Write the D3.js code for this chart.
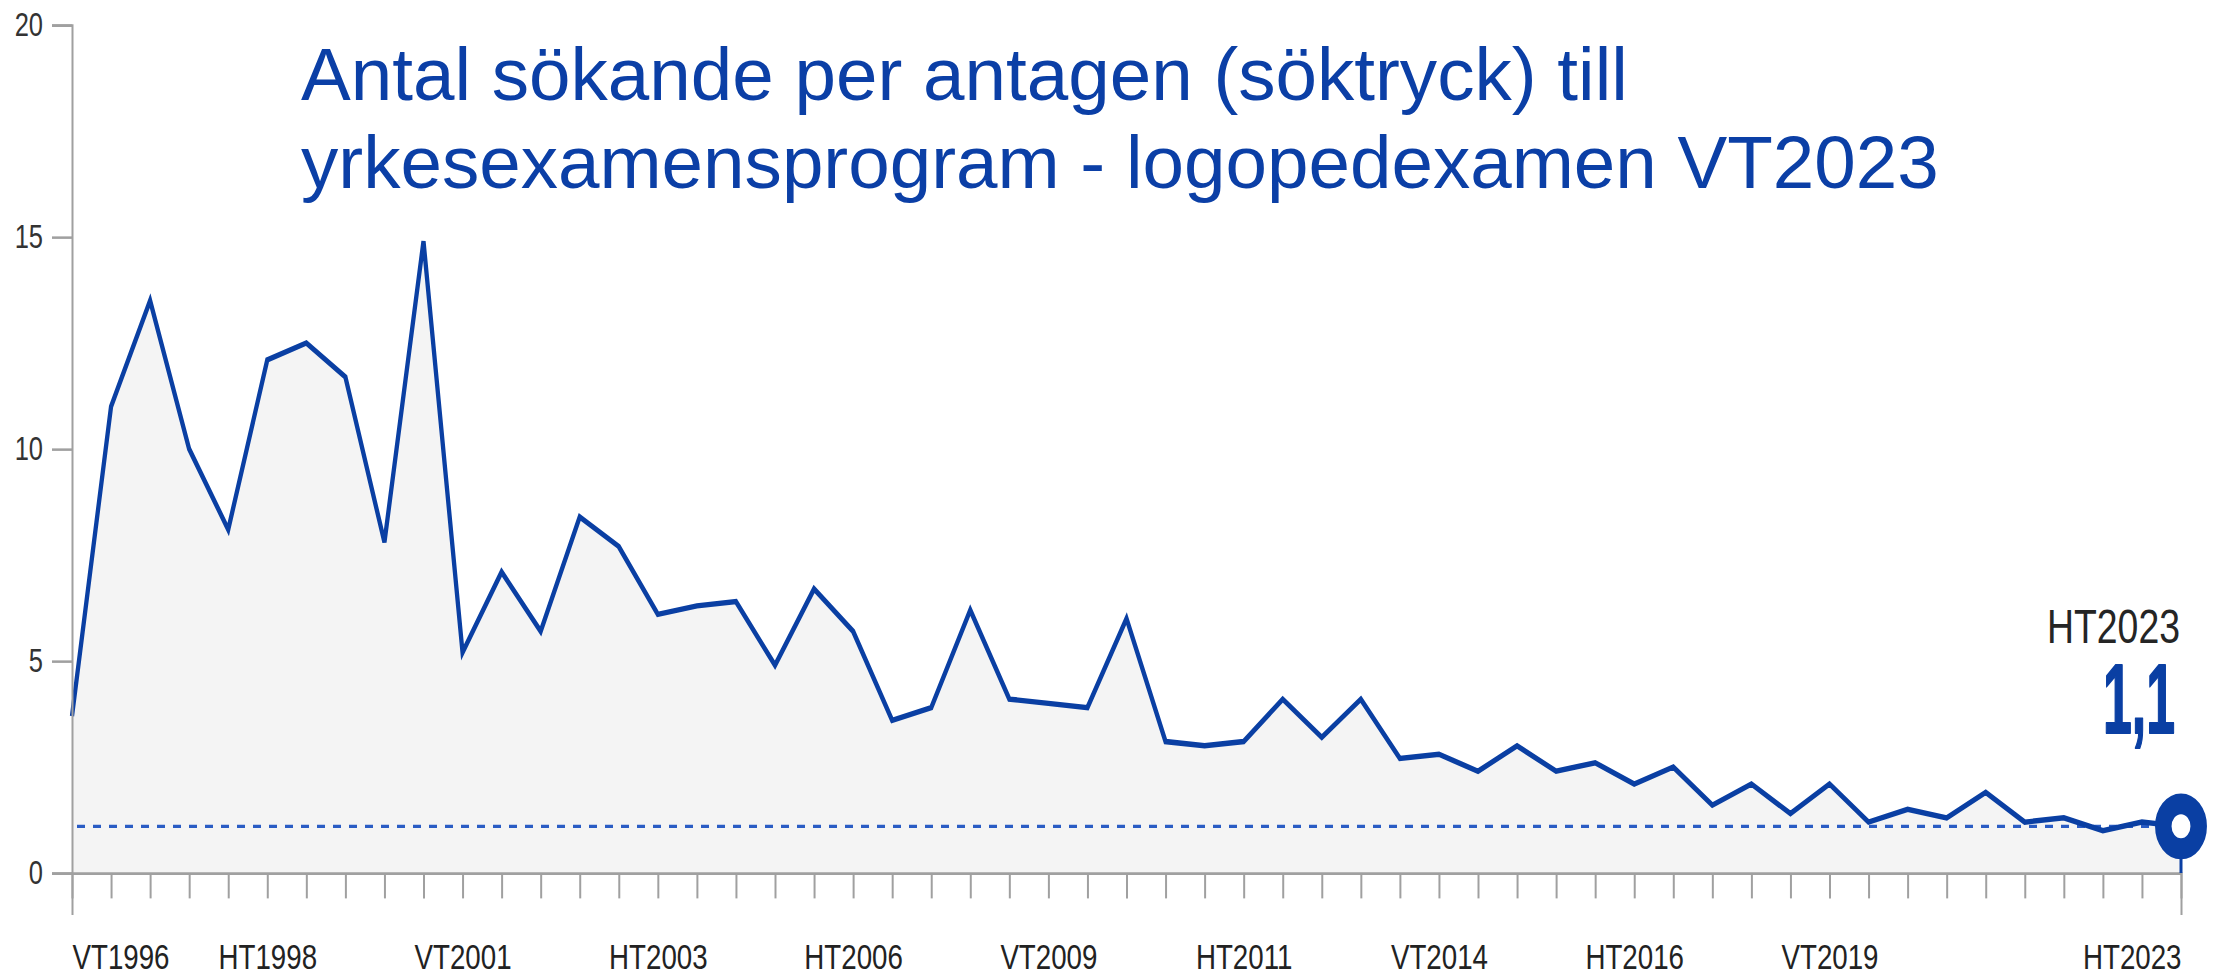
<!DOCTYPE html>
<html>
<head>
<meta charset="utf-8">
<script src="https://cdn.jsdelivr.net/npm/d3@7"></script>
<style>
  body { margin: 0; background: #fff; }
  text { font-family: "Liberation Sans", Arial, sans-serif; }
</style>
</head>
<body>
<script>
const semesters = ["VT1996", "HT1996", "VT1997", "HT1997", "VT1998", "HT1998", "VT1999", "HT1999",
  "VT2000", "HT2000", "VT2001", "HT2001", "VT2002", "HT2002", "VT2003", "HT2003", "VT2004", "HT2004",
  "HT2005", "VT2006", "HT2006", "VT2007", "HT2007", "VT2008", "HT2008", "VT2009", "HT2009", "VT2010",
  "HT2010", "VT2011", "HT2011", "VT2012", "HT2012", "VT2013", "HT2013", "VT2014", "HT2014", "VT2015",
  "HT2015", "VT2016", "HT2016", "VT2017", "HT2017", "VT2018", "HT2018", "VT2019", "HT2019", "VT2020",
  "HT2020", "VT2021", "HT2021", "VT2022", "HT2022", "VT2023", "HT2023"];

const soktryck = [3.7, 11.0, 13.5, 10.0, 8.1, 12.1, 12.5, 11.7, 7.8, 14.9, 5.2, 7.1, 5.7, 8.4, 7.7,
  6.1, 6.3, 6.4, 4.9, 6.7, 5.7, 3.6, 3.9, 6.2, 4.1, 4.0, 3.9, 6.0, 3.1, 3.0, 3.1, 4.1, 3.2, 4.1,
  2.7, 2.8, 2.4, 3.0, 2.4, 2.6, 2.1, 2.5, 1.6, 2.1, 1.4, 2.1, 1.2, 1.5, 1.3, 1.9, 1.2, 1.3, 1.0,
  1.2, 1.1];

const tickLabels = ["VT1996", "HT1998", "VT2001", "HT2003", "HT2006", "VT2009", "HT2011",
  "VT2014", "HT2016", "VT2019", "HT2023"];
const yTicks = [0, 5, 10, 15, 20];

const titleLines = ["Antal sökande per antagen (söktryck) till",
  "yrkesexamensprogram - logopedexamen VT2023"];

const blue = "#0a3fa3";
const S = 1.27; // the chart picture is stretched vertically

const svg = d3.select("body").append("svg")
  .attr("width", 2216)
  .attr("height", 977);

const x = d3.scalePoint().domain(semesters).range([72, 2181]);
const y = d3.scaleLinear().domain([0, 20]).range([873 / S, 25 / S]);

const g = svg.append("g").attr("transform", `scale(1,${S})`);

// grey area under the line
g.append("path")
  .datum(soktryck)
  .attr("fill", "#f4f4f4")
  .attr("d", d3.area()
    .x((d, i) => x(semesters[i]))
    .y0(y(0))
    .y1(d => y(d)));

const last = soktryck[soktryck.length - 1];
const lastSem = semesters[semesters.length - 1];

// dashed reference at latest value
g.append("line")
  .attr("x1", x(semesters[0]) + 5)
  .attr("x2", x(lastSem))
  .attr("y1", y(last))
  .attr("y2", y(last))
  .attr("stroke", "#2a5cc4")
  .attr("stroke-width", 2.6)
  .attr("stroke-dasharray", "8,8");

g.append("path")
  .datum(soktryck)
  .attr("fill", "none")
  .attr("stroke", blue)
  .attr("stroke-width", 4.3)
  .attr("d", d3.line()
    .x((d, i) => x(semesters[i]))
    .y(d => y(d)));

// axes
const xAxis = g.append("g")
  .attr("transform", `translate(0,${y(0)})`)
  .call(d3.axisBottom(x)
    .tickSize(20)
    .tickSizeOuter(33)
    .tickFormat(d => tickLabels.includes(d) ? d : ""));

xAxis.selectAll("text")
  .attr("y", 75.5)
  .attr("dy", null)
  .attr("font-size", 27.7)
  .attr("fill", "#222")
  .attr("text-anchor", d => d === semesters[0] ? "start" : d === lastSem ? "end" : "middle");

const yAxis = g.append("g")
  .attr("transform", `translate(${x(semesters[0])},0)`)
  .call(d3.axisLeft(y).tickValues(yTicks).tickSize(20).tickSizeOuter(20).tickPadding(9));

yAxis.selectAll("text")
  .attr("font-size", 25.5)
  .attr("fill", "#333");

g.selectAll(".domain, .tick line")
  .attr("stroke", "#a0a0a0")
  .attr("stroke-width", 2);

// latest point
g.append("line")
  .attr("x1", x(lastSem))
  .attr("x2", x(lastSem))
  .attr("y1", y(last))
  .attr("y2", y(0))
  .attr("stroke", blue)
  .attr("stroke-width", 3);

g.append("circle")
  .attr("cx", x(lastSem))
  .attr("cy", y(last))
  .attr("r", 17.7)
  .attr("fill", "#fff")
  .attr("stroke", blue)
  .attr("stroke-width", 16.5);

g.append("text")
  .attr("x", x(lastSem) - 1)
  .attr("y", 506)
  .attr("text-anchor", "end")
  .attr("font-size", 37.4)
  .attr("fill", "#252525")
  .text(lastSem);

g.append("text")
  .attr("x", x(lastSem) - 6)
  .attr("y", 577)
  .attr("text-anchor", "end")
  .attr("font-size", 77)
  .attr("font-weight", "bold")
  .attr("fill", blue)
  .attr("stroke", blue)
  .attr("stroke-width", 1.5)
  .attr("stroke-linejoin", "round")
  .attr("textLength", 72)
  .attr("lengthAdjust", "spacingAndGlyphs")
  .text(d3.format(".1f")(last).replace(".", ","));

// title
svg.append("text")
  .attr("x", 301)
  .attr("y", 100)
  .attr("font-size", 74.6)
  .attr("fill", "#0b3fa6")
  .selectAll("tspan")
  .data(titleLines)
  .join("tspan")
  .attr("x", 301)
  .attr("dy", (d, i) => i === 0 ? 0 : 88)
  .text(d => d);
</script>
</body>
</html>
